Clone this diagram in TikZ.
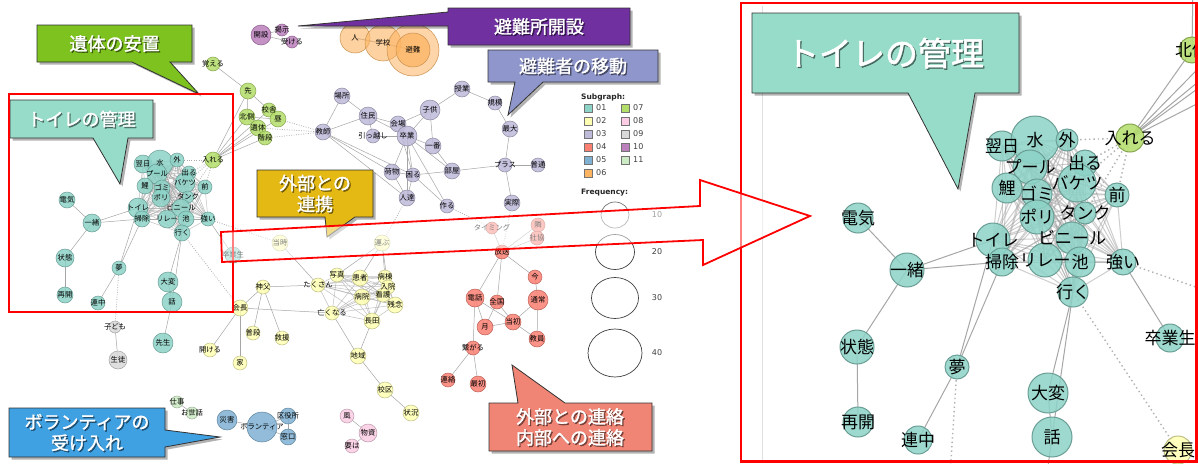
\documentclass[tikz,border=0pt]{standalone}
\usepackage{fontspec}
\usetikzlibrary{shapes.geometric}
\newfontfamily\jp{Noto Sans CJK JP}
\newfontfamily\jpb[FakeBold=1.5]{Noto Sans CJK JP}
\newfontfamily\lat{DejaVu Sans}
\pgfdeclarelayer{background}
\pgfdeclarelayer{foreground}
\pgfsetlayers{background,main,foreground}
\definecolor{c01}{HTML}{8DD3C7}
\definecolor{c02}{HTML}{FFFFB3}
\definecolor{c03}{HTML}{BEBADA}
\definecolor{c04}{HTML}{FB8072}
\definecolor{c05}{HTML}{80B1D3}
\definecolor{c06}{HTML}{FDB462}
\definecolor{c07}{HTML}{B3DE69}
\definecolor{c08}{HTML}{FCCDE5}
\definecolor{c09}{HTML}{D9D9D9}
\definecolor{c10}{HTML}{BC80BD}
\definecolor{c11}{HTML}{CCEBC5}
\definecolor{kgreen}{HTML}{7DC21E}
\definecolor{kteal}{HTML}{96DCC8}
\definecolor{kpurple}{HTML}{7030A0}
\definecolor{kperi}{HTML}{8F96CB}
\definecolor{kgold}{HTML}{E4B914}
\definecolor{kblue}{HTML}{3FA0E2}
\definecolor{ksalmon}{HTML}{F08575}
\tikzset{
  gn/.style={circle,inner sep=0pt,fill opacity=0.85,line width=0.5pt},
  gl/.style={font=\jp\fontsize{7.3}{8}\selectfont,inner sep=0pt,text=black},
  rn/.style={circle,inner sep=0pt,fill opacity=0.85,line width=1pt},
  rl/.style={font=\jp\fontsize{17}{18}\selectfont,inner sep=0pt,text=black},
  ge/.style={draw=gray!70,line width=0.5pt},
  gd/.style={draw=gray!65,line width=0.8pt,dash pattern=on 0.8pt off 1.6pt},
  rge/.style={draw=gray!70,line width=1pt},
  rgd/.style={draw=gray!60,line width=1.4pt,dash pattern=on 1.4pt off 3pt},
  cf/.style={font=\jpb\fontsize{18}{21}\selectfont,align=center,inner sep=0pt},
  cfb/.style={font=\jpb\fontsize{33}{36}\selectfont,align=center,inner sep=0pt},
  lsq/.style={rectangle,minimum size=7.5pt,inner sep=0pt,draw=black!55,line width=0.5pt},
  lt/.style={font=\lat\fontsize{8}{9}\selectfont,text=black!75,inner sep=0pt,anchor=west},
  lh/.style={font=\lat\bfseries\fontsize{7.5}{9}\selectfont,text=black!85,inner sep=0pt,anchor=west},
  fc/.style={ellipse,draw=black!75,line width=0.7pt,inner sep=0pt},
  redline/.style={draw=red,line width=1.8pt,line join=miter}
}
\newcommand\gnd[6]{%
  \node[gn,fill=#5,draw=#5!75!black,minimum size={2*#4}] (#1) at (#2,#3) {};
  \begin{pgfonlayer}{foreground}\node[gl] (#1t) at (#1.center) {#6};\end{pgfonlayer}}
\newcommand\rnd[6]{%
  \node[rn,fill=#5,draw=#5!75!black,minimum size={2*#4}] (#1) at (#2,#3) {};
  \begin{pgfonlayer}{foreground}\node[rl] (#1t) at (#1.center) {#6};\end{pgfonlayer}}
\newcommand\ctext[5]{%
  \node[#5,text=black,opacity=.45] (#1s) at (#2+1.3,#3+1.3) {#4};
  \node[#5,text=white] (#1) at (#2,#3) {#4};}
\newcommand\callout[2]{%
  \fill[black,opacity=.3,shift={(2.5,2.5)}] #2;
  \filldraw[fill=#1,draw=black!80,line width=0.8pt] #2;}
\begin{document}
\begin{tikzpicture}[x=1pt,y=-1pt]
\useasboundingbox (0,0) rectangle (1198,463);
\begin{pgfonlayer}{background}\fill[white] (0,0) rectangle (1198,463);\end{pgfonlayer}

% ---------- left graph: teal (01)
\gnd{t1}{143}{164}{9}{c01}{翌日}
\gnd{t2}{160}{163}{13}{c01}{水}
\gnd{t3}{177}{160}{7}{c01}{外}
\gnd{t4}{189}{173}{7}{c01}{出る}
\gnd{t5}{157}{174}{10}{c01}{プール}
\gnd{t6}{185}{183}{10}{c01}{バケツ}
\gnd{t7}{145}{186}{8}{c01}{鯉}
\gnd{t8}{162}{188}{8}{c01}{ゴミ}
\gnd{t9}{205}{187}{7}{c01}{前}
\gnd{t10}{161}{198}{9}{c01}{ポリ}
\gnd{t11}{188}{197}{6}{c01}{タンク}
\gnd{t12}{138}{208}{10}{c01}{トイレ}
\gnd{t13}{181}{208}{9}{c01}{ビニール}
\gnd{t14}{142}{219}{8}{c01}{掃除}
\gnd{t15}{167}{219}{9}{c01}{リレー}
\gnd{t16}{186}{219}{8}{c01}{池}
\gnd{t17}{208}{219}{7}{c01}{強い}
\gnd{t18}{182}{233}{8}{c01}{行く}
\gnd{t19}{67}{200}{8}{c01}{電気}
\gnd{t20}{92}{223}{9}{c01}{一緒}
\gnd{t21}{65}{258}{9}{c01}{状態}
\gnd{t22}{65}{295}{8}{c01}{再開}
\gnd{t23}{119}{268}{7}{c01}{夢}
\gnd{t24}{168}{282}{10}{c01}{大変}
\gnd{t25}{172}{302}{10}{c01}{話}
\gnd{t26}{98}{303}{7}{c01}{連中}
\gnd{t27}{163}{343}{10}{c01}{先生}
\gnd{t28}{233}{255}{8}{c01}{卒業生}
% green (07)
\gnd{g1}{213}{64}{7}{c07}{覚える}
\gnd{g2}{248}{91}{8}{c07}{先}
\gnd{g3}{247}{117}{8}{c07}{北側}
\gnd{g4}{269}{110}{7}{c07}{校舎}
\gnd{g5}{278}{119}{8}{c07}{昼}
\gnd{g6}{258}{128}{8}{c07}{遺体}
\gnd{g7}{265}{138}{7}{c07}{階段}
\gnd{g8}{213}{160}{8}{c07}{入れる}
% purple (10)
\gnd{p1}{261}{35}{10}{c10}{開設}
\gnd{p2}{282}{30}{6}{c10}{掲示}
\gnd{p3}{292}{42}{6}{c10}{受ける}
% orange (06)
\node[gn,fill=c06,fill opacity=.6,draw=c06!80!black,minimum size=30] (o1) at (355,38) {};
\node[gn,fill=c06,fill opacity=.6,draw=c06!80!black,minimum size=36] (o2) at (383,43) {};
\node[gn,fill=c06,fill opacity=.55,draw=c06!80!black,minimum size=52] (o3) at (413,50) {};
\node[gn,fill=c06,fill opacity=.75,draw=c06!80!black,minimum size=34] (o3in) at (o3.center) {};
\begin{pgfonlayer}{foreground}
\node[gl] (o1t) at (o1.center) {人};
\node[gl] (o2t) at (o2.center) {学校};
\node[gl] (o3t) at (o3.center) {避難};
\end{pgfonlayer}
% lavender (03)
\gnd{l1}{342}{96}{8}{c03}{場所}
\gnd{l2}{368}{116}{9}{c03}{住民}
\gnd{l3}{323}{132}{8}{c03}{教師}
\gnd{l4}{398}{124}{8}{c03}{会場}
\gnd{l5}{373}{136}{7}{c03}{引っ越し}
\gnd{l6}{407}{136}{10}{c03}{卒業}
\gnd{l7}{462}{89}{8}{c03}{授業}
\gnd{l8}{495}{103}{7}{c03}{規模}
\gnd{l9}{430}{110}{10}{c03}{子供}
\gnd{l10}{510}{129}{8}{c03}{最大}
\gnd{l11}{433}{146}{8}{c03}{一番}
\gnd{l12}{452}{171}{8}{c03}{部屋}
\gnd{l13}{505}{165}{7}{c03}{プラス}
\gnd{l14}{538}{165}{7}{c03}{普通}
\gnd{l15}{447}{206}{7}{c03}{作る}
\gnd{l16}{512}{203}{8}{c03}{実際}
\gnd{l17}{392}{172}{8}{c03}{荷物}
\gnd{l18}{413}{175}{7}{c03}{困る}
\gnd{l19}{407}{198}{8}{c03}{人達}
% salmon (04)
\gnd{r1}{492}{228}{6}{c04}{タイミング}
\gnd{r2}{538}{225}{7}{c04}{隣}
\gnd{r3}{537}{238}{7}{c04}{社協}
\gnd{r4}{502}{252}{7}{c04}{放送}
\gnd{r5}{535}{277}{7}{c04}{今}
\gnd{r6}{475}{298}{9}{c04}{電話}
\gnd{r7}{497}{302}{7}{c04}{全国}
\gnd{r8}{538}{300}{10}{c04}{通常}
\gnd{r9}{485}{327}{8}{c04}{月}
\gnd{r10}{513}{322}{8}{c04}{当初}
\gnd{r11}{537}{339}{8}{c04}{教員}
\gnd{r12}{473}{348}{7}{c04}{繋がる}
\gnd{r13}{448}{380}{7}{c04}{連絡}
\gnd{r14}{478}{384}{8}{c04}{最初}
% yellow (02)
\gnd{y1}{280}{243}{8}{c02}{当時}
\gnd{y2}{382}{243}{8}{c02}{運ぶ}
\gnd{y3}{263}{287}{7}{c02}{神父}
\gnd{y4}{318}{285}{7}{c02}{たくさん}
\gnd{y5}{337}{275}{7}{c02}{写真}
\gnd{y6}{360}{278}{8}{c02}{患者}
\gnd{y7}{385}{277}{7}{c02}{病棟}
\gnd{y8}{388}{287}{7}{c02}{入院}
\gnd{y9}{362}{297}{8}{c02}{病院}
\gnd{y10}{383}{295}{7}{c02}{看護}
\gnd{y11}{395}{305}{8}{c02}{残念}
\gnd{y12}{240}{308}{8}{c02}{会長}
\gnd{y13}{332}{313}{7}{c02}{亡くなる}
\gnd{y14}{372}{321}{8}{c02}{長田}
\gnd{y15}{253}{333}{7}{c02}{普段}
\gnd{y16}{282}{338}{7}{c02}{救援}
\gnd{y17}{210}{350}{7}{c02}{開ける}
\gnd{y18}{240}{363}{7}{c02}{家}
\gnd{y19}{358}{356}{8}{c02}{地域}
\gnd{y20}{385}{390}{8}{c02}{校区}
\gnd{y21}{411}{413}{8}{c02}{状況}
% others
\gnd{gy1}{115}{327}{6}{c09}{子ども}
\gnd{gy2}{118}{360}{9}{c09}{生徒}
\gnd{lg1}{177}{402}{6}{c11}{仕事}
\gnd{lg2}{192}{413}{6}{c11}{お世話}
\gnd{b1}{227}{420}{10}{c05}{災害}
\gnd{b2}{262}{427}{15}{c05}{ボランティア}
\gnd{b3}{288}{416}{8}{c05}{区役所}
\gnd{b4}{288}{437}{8}{c05}{窓口}
\gnd{pk1}{347}{416}{7}{c08}{風}
\gnd{pk2}{368}{433}{9}{c08}{物資}
\gnd{pk3}{352}{446}{7}{c08}{要は}

\begin{pgfonlayer}{background}
\foreach \i in {1,...,18}{\foreach \j in {1,...,18}{\ifnum\j>\i \draw[ge,opacity=.7] (t\i.center)--(t\j.center);\fi}}
\foreach \i in {4,5,6,7,8,9,10,11,13,14}{\foreach \j in {4,5,6,7,8,9,10,11,13,14}{\ifnum\j>\i \draw[ge,opacity=.7] (y\i.center)--(y\j.center);\fi}}
\foreach \a/\b in {t19/t20,t20/t12,t20/t14,t20/t21,t21/t22,t23/t12,t23/t14,t23/t26,t24/t18,t25/t18,t24/t25,t25/t27,t17/t28,
 g1/g2,g2/g3,g2/g4,g2/g8,g3/g6,g3/g7,g4/g5,g3/g5,g6/g7,g8/g3,g8/g6,g8/g7,g8/g5,g8/g4,
 p1/p2,p1/p3,o1/o2,o2/o3,o1/o3,
 l1/l2,l1/l3,l2/l3,l2/l4,l2/l5,l4/l6,l5/l6,l2/l6,l6/l9,l4/l9,l9/l7,l7/l8,l8/l10,l10/l13,l13/l12,l13/l14,l13/l16,l9/l11,l6/l11,l3/l17,l3/l18,l3/l19,l6/l17,l6/l18,l6/l19,l4/l18,l17/l18,l18/l15,l18/l19,l17/l19,l12/l18,l6/l15,l12/l6,l11/l12,
 r4/r1,r4/r2,r4/r3,r4/r5,r4/r6,r4/r7,r5/r8,r6/r9,r6/r12,r6/r10,r7/r9,r7/r10,r9/r10,r10/r8,r10/r11,r8/r11,r12/r13,r12/r14,
 y1/y4,y2/y5,y2/y6,y2/y7,y2/y8,y3/y4,y3/y12,y3/y15,y3/y16,y12/y13,y12/y17,y12/y18,y13/y19,y14/y19,y19/y20,y20/y21,
 gy1/gy2,lg1/lg2,b1/b2,b2/b3,b2/b4,b3/b4,pk1/pk2,pk2/pk3}
 \draw[ge] (\a.center)--(\b.center);
\foreach \a/\b in {t3/g8,t4/g8,t6/g8,t9/g8,t11/g8,g5/l3,g6/l3,g7/l3,t18/y12,t17/y1,t23/gy1,l15/r1,l16/r4,y2/l19}
 \draw[gd] (\a.center)--(\b.center);
\end{pgfonlayer}

% ---------- legend
\node[lh] (sgh) at (581,97) {Subgraph:};
\foreach \c/\x/\y/\n in {c01/588/108/01,c02/588/121/02,c03/588/134/03,c04/588/147/04,c05/588/160/05,c06/588/173/06,c07/625/108/07,c08/625/121/08,c09/625/134/09,c10/625/147/10,c11/625/160/11}{
  \node[lsq,fill=\c] (sq\n) at (\x,\y) {};
  \node[lt] (sqt\n) at (\x+8,\y) {\n};}
\node[lh] (frh) at (581,193) {Frequency:};
\node[fc,draw=black!55,minimum width=28,minimum height=26] (f10) at (615,215) {};
\node[fc,minimum width=39,minimum height=35] (f20) at (615,252) {};
\node[fc,minimum width=47,minimum height=41] (f30) at (615,298) {};
\node[fc,minimum width=54,minimum height=48] (f40) at (615,353) {};
\node[lt,anchor=center] (f10t) at (657,215) {10};
\node[lt,anchor=center] (f20t) at (657,252) {20};
\node[lt,anchor=center] (f30t) at (657,298) {30};
\node[lt,anchor=center] (f40t) at (657,353) {40};

% ---------- right zoom panel
\draw[gray!25,line width=0.8pt] (762,6) -- (762,462);
\rnd{R1}{1002}{146}{15}{c01}{翌日}
\rnd{R2}{1035}{140}{24}{c01}{水}
\rnd{R3}{1067}{140}{11}{c01}{外}
\rnd{R4}{1085}{163}{13}{c01}{出る}
\rnd{R5}{1030}{167}{17}{c01}{プール}
\rnd{R6}{1077}{183}{19}{c01}{バケツ}
\rnd{R7}{1007}{188}{15}{c01}{鯉}
\rnd{R8}{1037}{194}{15}{c01}{ゴミ}
\rnd{R9}{1117}{195}{12}{c01}{前}
\rnd{R10}{1037}{217}{17}{c01}{ポリ}
\rnd{R11}{1085}{213}{11}{c01}{タンク}
\rnd{R12}{993}{240}{17}{c01}{トイレ}
\rnd{R13}{1072}{238}{16}{c01}{ビニール}
\rnd{R14}{1002}{262}{14}{c01}{掃除}
\rnd{R15}{1045}{260}{17}{c01}{リレー}
\rnd{R16}{1080}{262}{15}{c01}{池}
\rnd{R17}{1123}{262}{13}{c01}{強い}
\rnd{R18}{1073}{292}{15}{c01}{行く}
\rnd{R19}{858}{218}{15}{c01}{電気}
\rnd{R20}{907}{270}{17}{c01}{一緒}
\rnd{R21}{857}{347}{17}{c01}{状態}
\rnd{R22}{858}{422}{15}{c01}{再開}
\rnd{R23}{957}{367}{12}{c01}{夢}
\rnd{R24}{1048}{393}{20}{c01}{大変}
\rnd{R25}{1052}{437}{20}{c01}{話}
\rnd{R26}{918}{440}{14}{c01}{連中}
\rnd{R28}{1170}{338}{14}{c01}{卒業生}
\rnd{RG8}{1130}{138}{14}{c07}{入れる}
\rnd{RG3}{1192}{50}{13}{c07}{北側}
\rnd{RY12}{1178}{450}{14}{c02}{会長}
\coordinate (Xiti) at (1221,63);
\coordinate (Xkai) at (1234,85);
\coordinate (Xkos) at (1242,24);
\coordinate (Xhiru) at (1259,44);
\coordinate (Xsaki) at (1193,-20);
\coordinate (Xsen) at (1040,525);
\coordinate (Xtoji) at (1263,310);
\coordinate (Xkod) at (949,491);
\begin{pgfonlayer}{background}
\foreach \i in {1,...,18}{\foreach \j in {1,...,18}{\ifnum\j>\i \draw[rge,opacity=.55] (R\i.center)--(R\j.center);\fi}}
\foreach \a/\b in {R19/R20,R20/R12,R20/R14,R20/R21,R21/R22,R23/R12,R23/R14,R23/R26,R24/R18,R25/R18,R24/R25,R17/R28,RG8/RG3,RG8/Xiti,RG8/Xkai,RG8/Xkos,RG8/Xhiru,RG3/Xsaki,R25/Xsen}
 \draw[rge] (\a.center)--(\b.center);
\foreach \a/\b in {R3/RG8,R4/RG8,R6/RG8,R9/RG8,R11/RG8,R18/RY12,R17/Xtoji,R23/Xkod}
 \draw[rgd] (\a.center)--(\b.center);
\end{pgfonlayer}

% ---------- overlays: callouts and red marks
\begin{pgfonlayer}{foreground}
\callout{kgreen}{(37,25) -- (192,25) -- (192,62) -- (170,62) -- (199,94) -- (132,62) -- (37,62) -- cycle}
\ctext{cA}{114.5}{43.5}{遺体の安置}{cf}
\callout{kteal}{(10,100) -- (153,100) -- (153,138) -- (128,138) -- (120,184) -- (93,138) -- (10,138) -- cycle}
\ctext{cB}{81.5}{119}{トイレの管理}{cf}
\callout{kpurple}{(448,8) -- (630,8) -- (630,45) -- (448,45) -- (448,26) -- (298,26) -- (448,12) -- cycle}
\ctext{cC}{539}{26.5}{避難所開設}{cf}
\callout{kperi}{(488,50) -- (658,50) -- (658,82) -- (543,82) -- (508,115) -- (515,82) -- (488,82) -- cycle}
\ctext{cD}{573}{66}{避難者の移動}{cf}
\callout{kgold}{(257,170) -- (373,170) -- (373,217) -- (355,217) -- (327,237) -- (325,217) -- (257,217) -- cycle}
\ctext{cE}{315}{193.5}{外部との\\連携}{cf}
\callout{kblue}{(9,408) -- (165,408) -- (165,430) -- (220,437) -- (165,447) -- (165,457) -- (9,457) -- cycle}
\ctext{cF}{87}{432.5}{ボランティアの\\受け入れ}{cf}
\callout{ksalmon}{(489,403) -- (518,403) -- (512,365) -- (565,403) -- (652,403) -- (652,451) -- (489,451) -- cycle}
\ctext{cG}{570}{427}{外部との連絡\\内部への連絡}{cf}
\callout{kteal}{(752,13) -- (1019,13) -- (1019,93) -- (975,93) -- (958,189) -- (908,93) -- (752,93) -- cycle}
\ctext{cH}{885}{53}{トイレの管理}{cfb}
\draw[redline] (9,94) rectangle (233,312);
\draw[redline,line width=2.4pt] (741,3) rectangle (1196.5,461.5);
\filldraw[redline,fill=white,fill opacity=.5] (221,232) -- (700,206) -- (700,180) -- (810,216) -- (703,265) -- (703,240) -- (222,262) -- cycle;
\end{pgfonlayer}
\end{tikzpicture}
\end{document}
